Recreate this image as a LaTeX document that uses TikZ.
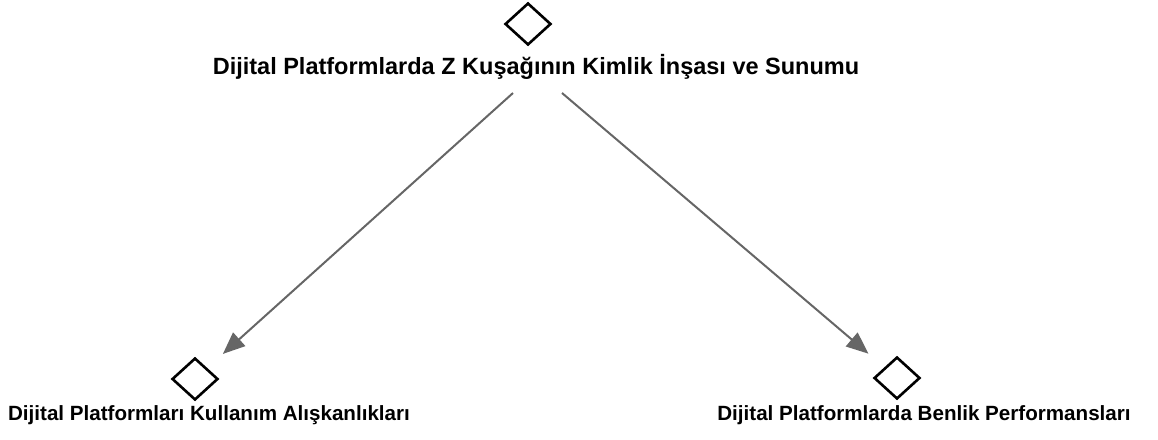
\documentclass[tikz,border=0pt]{standalone}
\usepackage{fontspec}
\setmainfont{Liberation Sans}
\usetikzlibrary{shapes.geometric,arrows.meta}
\begin{document}
\begin{tikzpicture}[x=1pt,y=-1pt,
  dia/.style={shape=diamond,draw=black,line width=2.6pt,minimum width=46pt,minimum height=42pt,inner sep=0pt},
  lbl/.style={font=\bfseries\fontsize{20.6}{24}\selectfont,inner sep=0pt,anchor=base},
  toplbl/.style={font=\bfseries\fontsize{23.5}{27}\selectfont,inner sep=0pt,anchor=base},
  arr/.style={draw=black!60,line width=2pt,-{Triangle[length=22pt,width=18pt]},shorten >=21pt}]
\useasboundingbox (0,0) rectangle (1158,439);
\node[dia] (tdia) at (528,24) {};
\node[toplbl] (ttext) at (536,74) {Dijital Platformlarda Z Kuşağının Kimlik İnşası ve Sunumu};
\node[dia] (ldia) at (195,379) {};
\node[lbl] (ltext) at (209,420) {Dijital Platformları Kullanım Alışkanlıkları};
\node[dia] (rdia) at (897,378) {};
\node[lbl] (rtext) at (924,420) {Dijital Platformlarda Benlik Performansları};
\coordinate (s1) at (513,93);
\coordinate (s2) at (562,93);
\draw[arr] (s1) -- (ldia);
\draw[arr] (s2) -- (rdia);
\end{tikzpicture}
\end{document}
